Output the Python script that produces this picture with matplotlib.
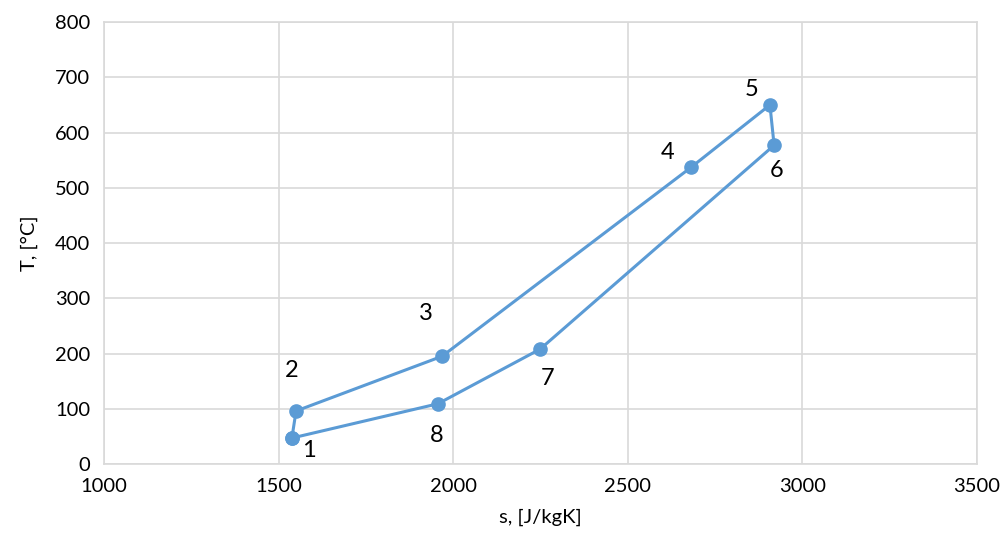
import matplotlib.pyplot as plt

# cycle state points (entropy, temperature)
labels = ["1", "2", "3", "4", "5", "6", "7", "8"]
s_vals = [1538, 1550, 1968, 2681, 2907, 2919, 2249, 1956]
t_vals = [47, 96, 195, 537, 650, 577, 208, 109]
# label offsets in points
offsets = [(12, -9), (-3, 29), (-12, 31), (-17, 11), (-13, 11), (2, -18), (5, -21), (-1, -23)]

plt.rcParams['font.family'] = ['Lato', 'DejaVu Sans']
blue = "#5B9BD5"
grid = "#D9D9D9"

fig = plt.figure(figsize=(10.04, 5.52), dpi=100)
ax = fig.add_axes([0.1036, 0.1594, 0.8695, 0.8006])

ax.plot(s_vals + s_vals[:1], t_vals + t_vals[:1], color=blue, lw=2.2,
        marker="o", ms=9.5, zorder=3)

for lab, x, y, off in zip(labels, s_vals, t_vals, offsets):
    ax.annotate(lab, (x, y), xytext=off, textcoords="offset points",
                ha="center", va="center", fontsize=17, color="black")

ax.set_xlim(1000, 3500)
ax.set_ylim(0, 800)
ax.set_xticks(range(1000, 3501, 500))
ax.set_yticks(range(0, 801, 100))
ax.grid(True, color=grid, lw=1.2)
ax.set_axisbelow(True)
for sp in ax.spines.values():
    sp.set_color(grid)
    sp.set_linewidth(1.2)
ax.tick_params(length=0, labelsize=14.5, pad=10)

ax.set_xlabel("s, [J/kgK]", fontsize=14.5, labelpad=10)
ax.set_ylabel("T, [°C]", fontsize=14.5, labelpad=12)

fig.savefig("out.png", dpi=100)
